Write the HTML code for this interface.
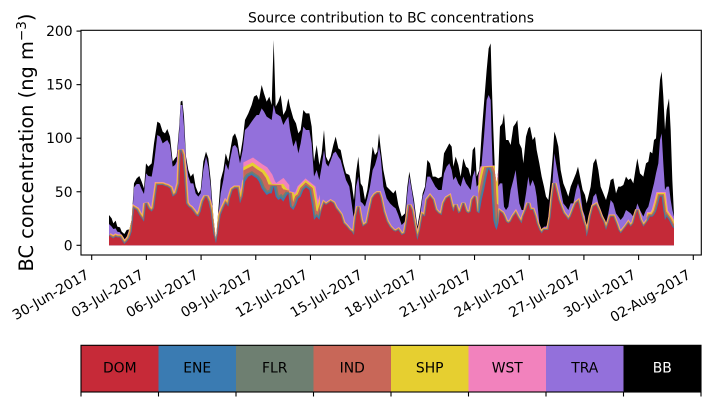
<!DOCTYPE html>
<html><head><meta charset="utf-8"><style>html,body{margin:0;padding:0;background:#fff;overflow:hidden}svg{display:block}</style></head>
<body>
<svg width="710" height="402" viewBox="0 0 710 402" xmlns="http://www.w3.org/2000/svg" font-family="'DejaVu Sans','Liberation Sans',sans-serif">
<rect width="710" height="402" fill="#fff"/>
<defs>
<polyline id="rl" fill="none" points="87,617 95,622 100,625 107,620 112,622 120,622 125,630 133,642 140,635 148,625 155,605 162,535 170,540 178,555 185,565 192,575 198,520 205,535 215,545 222,535 232,465 240,465 248,465 255,468 262,470 270,475 278,500 285,495 290,490 298,460 302,360 307,375 312,430 318,520 325,530 332,535 340,545 347,555 355,560 362,545 370,515 378,500 385,515 392,545 400,610 408,640 415,600 422,555 430,535 437,520 445,530 450,505 458,480 465,475 472,475 480,520 488,500 495,455 505,440 515,435 522,440 530,445 537,455 545,475 552,485 560,495 568,490 575,490 581,470 587,500 595,510 602,505 610,515 618,500 625,490 630,530 640,540 648,525 655,505 662,500 670,480 678,472 688,480 695,520 702,570 710,560 718,570 725,540 732,520 738,525 745,520 752,515 760,520 767,535 775,545 782,555 790,580 798,588 808,600 815,605 822,615 828,560 835,530 842,570 848,590 855,585 862,580 870,540 878,505 885,495 892,490 897,490 902,505 910,545 920,575 930,592 940,602 947,605 955,600 965,615 975,610 982,570 988,525 995,540 1002,580 1012,630 1020,600 1028,555 1035,560 1042,510 1050,500 1058,510 1066,540 1075,550 1085,555 1092,520 1100,505 1108,500 1115,530 1120,545 1127,525 1135,550 1142,545 1150,520 1158,545 1165,550 1172,545 1178,510 1185,500 1190,545 1198,550 1205,510 1212,480 1220,440 1226,415 1232,430 1235,490 1240,570 1245,590 1250,600 1255,580 1260,545 1267,550 1272,560 1278,575 1285,580 1292,575 1300,560 1307,550 1312,560 1318,570 1325,580 1330,560 1338,540 1345,520 1350,540 1358,540 1365,560 1370,580 1378,600 1385,610 1392,600 1398,600 1405,600 1412,560 1418,500 1423,460 1428,480 1435,510 1442,530 1450,550 1458,560 1465,570 1472,560 1480,540 1488,520 1494,515 1500,540 1508,570 1515,590 1520,620 1525,600 1532,560 1540,530 1548,525 1555,540 1562,560 1570,575 1578,600 1585,580 1592,560 1600,560 1608,580 1615,600 1622,610 1630,600 1638,590 1645,580 1652,590 1660,580 1667,555 1672,540 1680,570 1690,590 1698,580 1705,570 1710,560 1717,560 1722,555 1728,545 1735,520 1740,500 1745,500 1750,540 1755,570 1760,560 1767,570 1772,580 1777,590 1782,595"/>
<clipPath id="tot"><polygon points="87,555 95,565 100,580 107,572 112,590 120,592 125,605 133,612 140,600 148,598 155,570 162,460 170,445 178,438 185,455 192,475 198,400 205,410 215,400 222,340 232,275 240,280 248,305 255,310 262,297 270,320 278,395 285,385 290,380 298,285 302,215 307,212 312,260 318,380 325,420 332,440 340,430 347,470 355,490 362,480 370,395 378,365 385,385 392,450 400,560 408,630 415,540 422,450 430,420 437,370 445,395 450,365 458,320 465,310 472,330 480,380 488,330 495,270 505,250 515,225 522,200 530,195 537,210 545,165 552,190 560,215 568,200 575,225 581,30 587,230 595,215 602,195 610,255 618,240 625,205 630,230 640,265 648,280 655,310 662,300 670,240 678,250 688,250 695,290 702,395 710,345 718,405 725,370 732,300 738,380 745,395 752,380 760,345 767,320 775,355 782,360 790,400 798,430 808,435 815,460 822,510 828,430 835,380 842,460 848,470 855,510 862,480 870,420 878,350 885,375 892,365 897,310 902,355 910,420 920,470 930,480 940,490 947,480 955,525 965,560 975,550 982,470 988,425 995,470 1002,510 1012,590 1020,545 1028,490 1035,470 1042,390 1050,400 1058,440 1066,440 1075,445 1085,440 1092,370 1100,355 1108,340 1115,350 1120,410 1127,380 1135,405 1142,440 1150,385 1158,410 1165,415 1172,440 1178,360 1185,350 1190,440 1198,420 1205,310 1212,220 1220,120 1226,55 1232,40 1235,150 1240,300 1245,430 1250,460 1255,420 1260,290 1267,280 1272,250 1278,330 1285,330 1292,345 1300,290 1307,280 1312,270 1318,340 1325,355 1330,400 1338,320 1345,295 1350,290 1358,330 1365,320 1370,360 1378,400 1385,440 1392,470 1398,500 1405,510 1412,450 1418,380 1423,305 1428,320 1435,350 1442,420 1450,460 1458,480 1465,500 1472,470 1480,450 1488,430 1494,410 1500,440 1508,480 1515,495 1520,520 1525,500 1532,470 1540,400 1548,385 1555,420 1562,470 1570,490 1578,510 1585,485 1592,450 1600,445 1608,490 1615,470 1622,470 1630,465 1638,440 1645,450 1652,445 1660,460 1667,415 1672,385 1680,430 1690,440 1698,400 1705,395 1710,365 1717,370 1722,330 1728,325 1735,220 1740,150 1745,125 1750,200 1755,300 1760,240 1767,205 1772,300 1777,450 1782,555 1782,646 87,646"/></clipPath>
<clipPath id="c1"><rect x="0" y="0" width="490" height="700"/></clipPath>
<clipPath id="c2"><rect x="490" y="0" width="138" height="700"/></clipPath>
<clipPath id="c3"><rect x="628" y="0" width="92" height="700"/></clipPath>
<clipPath id="c4"><rect x="720" y="0" width="475" height="700"/></clipPath>
<clipPath id="c5"><rect x="1195" y="0" width="60" height="700"/></clipPath>
<clipPath id="c6"><rect x="1255" y="0" width="445" height="700"/></clipPath>
<clipPath id="c7"><rect x="1700" y="0" width="120" height="700"/></clipPath>
</defs>

<!-- title -->
<text x="391" y="22.5" font-size="13.9" text-anchor="middle" fill="#000">Source contribution to BC concentrations</text>

<!-- data -->
<g transform="translate(80,30) scale(0.333333)">
<!-- BB (black) -->
<polygon fill="#000" points="87,555 95,565 100,580 107,572 112,590 120,592 125,605 133,612 140,600 148,598 155,570 162,460 170,445 178,438 185,455 192,475 198,400 205,410 215,400 222,340 232,275 240,280 248,305 255,310 262,297 270,320 278,395 285,385 290,380 298,285 302,215 307,212 312,260 318,380 325,420 332,440 340,430 347,470 355,490 362,480 370,395 378,365 385,385 392,450 400,560 408,630 415,540 422,450 430,420 437,370 445,395 450,365 458,320 465,310 472,330 480,380 488,330 495,270 505,250 515,225 522,200 530,195 537,210 545,165 552,190 560,215 568,200 575,225 581,30 587,230 595,215 602,195 610,255 618,240 625,205 630,230 640,265 648,280 655,310 662,300 670,240 678,250 688,250 695,290 702,395 710,345 718,405 725,370 732,300 738,380 745,395 752,380 760,345 767,320 775,355 782,360 790,400 798,430 808,435 815,460 822,510 828,430 835,380 842,460 848,470 855,510 862,480 870,420 878,350 885,375 892,365 897,310 902,355 910,420 920,470 930,480 940,490 947,480 955,525 965,560 975,550 982,470 988,425 995,470 1002,510 1012,590 1020,545 1028,490 1035,470 1042,390 1050,400 1058,440 1066,440 1075,445 1085,440 1092,370 1100,355 1108,340 1115,350 1120,410 1127,380 1135,405 1142,440 1150,385 1158,410 1165,415 1172,440 1178,360 1185,350 1190,440 1198,420 1205,310 1212,220 1220,120 1226,55 1232,40 1235,150 1240,300 1245,430 1250,460 1255,420 1260,290 1267,280 1272,250 1278,330 1285,330 1292,345 1300,290 1307,280 1312,270 1318,340 1325,355 1330,400 1338,320 1345,295 1350,290 1358,330 1365,320 1370,360 1378,400 1385,440 1392,470 1398,500 1405,510 1412,450 1418,380 1423,305 1428,320 1435,350 1442,420 1450,460 1458,480 1465,500 1472,470 1480,450 1488,430 1494,410 1500,440 1508,480 1515,495 1520,520 1525,500 1532,470 1540,400 1548,385 1555,420 1562,470 1570,490 1578,510 1585,485 1592,450 1600,445 1608,490 1615,470 1622,470 1630,465 1638,440 1645,450 1652,445 1660,460 1667,415 1672,385 1680,430 1690,440 1698,400 1705,395 1710,365 1717,370 1722,330 1728,325 1735,220 1740,150 1745,125 1750,200 1755,300 1760,240 1767,205 1772,300 1777,450 1782,555 1782,646 87,646"/>
<!-- TRA (purple) -->
<polygon fill="#9370db" points="87,582 95,590 100,597 107,595 112,605 120,607 125,618 133,630 140,620 148,612 155,590 162,472 170,462 178,462 185,478 192,492 198,430 205,438 215,440 222,400 232,315 240,320 248,340 255,335 262,330 270,345 278,410 285,405 290,395 298,300 302,225 307,225 312,290 318,390 325,440 332,460 340,460 347,490 355,500 362,490 370,420 378,380 385,410 392,470 400,580 408,635 415,560 422,490 430,450 437,400 445,420 450,390 458,350 465,345 472,355 480,400 488,360 495,300 505,290 515,275 522,265 530,255 537,255 545,235 552,245 560,260 568,265 575,270 581,225 587,250 595,255 602,260 610,285 618,270 625,260 630,300 640,350 648,330 655,370 662,340 670,290 678,300 688,300 695,340 702,440 710,420 718,450 725,410 732,360 738,400 745,410 752,392 760,370 767,365 775,380 782,390 790,420 798,450 808,470 815,520 822,570 828,470 835,440 842,515 848,520 855,530 862,505 870,470 878,420 885,405 892,380 897,350 902,380 910,470 920,505 930,520 940,530 947,535 955,555 965,585 975,575 982,490 988,440 995,480 1002,525 1012,600 1020,560 1028,500 1035,480 1042,440 1050,440 1058,455 1066,470 1075,480 1085,480 1092,430 1100,410 1108,400 1115,420 1120,450 1127,440 1135,460 1142,470 1150,440 1158,460 1165,470 1172,480 1178,440 1185,420 1190,470 1198,460 1205,400 1212,320 1220,210 1226,195 1232,210 1235,320 1240,460 1245,520 1250,525 1255,470 1260,460 1267,460 1272,530 1278,540 1285,530 1292,480 1300,450 1307,420 1312,470 1318,520 1325,540 1330,540 1338,490 1345,440 1350,470 1358,450 1365,470 1370,500 1378,580 1385,600 1392,590 1398,590 1405,580 1412,540 1418,450 1423,370 1428,400 1435,440 1442,480 1450,520 1458,530 1465,540 1472,520 1480,520 1488,480 1494,460 1500,480 1508,540 1515,560 1520,610 1525,580 1532,540 1540,500 1548,490 1555,520 1562,540 1570,560 1578,580 1585,550 1592,510 1600,520 1608,550 1615,560 1622,570 1630,560 1638,540 1645,545 1652,550 1660,560 1667,540 1672,520 1680,540 1690,560 1698,540 1705,530 1710,510 1717,480 1722,460 1728,430 1735,400 1740,330 1745,310 1750,400 1755,480 1760,470 1767,470 1772,510 1777,540 1782,560 1782,646 87,646"/>
<!-- thin layers WST, SHP, IND, FLR, ENE -->
<g clip-path="url(#tot)" stroke-linejoin="miter" stroke-miterlimit="2" fill="none">
 <g clip-path="url(#c1)">
  <use href="#rl" stroke="#f282bd" stroke-width="18"/>
  <use href="#rl" stroke="#e6cf30" stroke-width="14.4"/>
  <use href="#rl" stroke="#c86758" stroke-width="9.9"/>
  <use href="#rl" stroke="#6e7f71" stroke-width="5.4"/>
  <use href="#rl" stroke="#3a7bb2" stroke-width="2.7"/>
 </g>
 <g clip-path="url(#c2)">
  <use href="#rl" stroke="#f282bd" stroke-width="90"/>
  <use href="#rl" stroke="#e6cf30" stroke-width="64.8"/>
  <use href="#rl" stroke="#c86758" stroke-width="46.8"/>
  <use href="#rl" stroke="#6e7f71" stroke-width="19.8"/>
  <use href="#rl" stroke="#3a7bb2" stroke-width="9"/>
 </g>
 <g clip-path="url(#c3)">
  <use href="#rl" stroke="#f282bd" stroke-width="40"/>
  <use href="#rl" stroke="#e6cf30" stroke-width="32"/>
  <use href="#rl" stroke="#c86758" stroke-width="22"/>
  <use href="#rl" stroke="#6e7f71" stroke-width="12"/>
  <use href="#rl" stroke="#3a7bb2" stroke-width="6"/>
 </g>
 <g clip-path="url(#c4)">
  <use href="#rl" stroke="#f282bd" stroke-width="14"/>
  <use href="#rl" stroke="#e6cf30" stroke-width="11.2"/>
  <use href="#rl" stroke="#c86758" stroke-width="7.7"/>
  <use href="#rl" stroke="#6e7f71" stroke-width="4.2"/>
  <use href="#rl" stroke="#3a7bb2" stroke-width="2.1"/>
 </g>
 <g clip-path="url(#c5)">
  <use href="#rl" stroke="#f282bd" stroke-width="50"/>
  <use href="#rl" stroke="#e6cf30" stroke-width="40"/>
  <use href="#rl" stroke="#c86758" stroke-width="27.5"/>
  <use href="#rl" stroke="#6e7f71" stroke-width="15"/>
  <use href="#rl" stroke="#3a7bb2" stroke-width="7.5"/>
 </g>
 <g clip-path="url(#c6)">
  <use href="#rl" stroke="#f282bd" stroke-width="14"/>
  <use href="#rl" stroke="#e6cf30" stroke-width="11.2"/>
  <use href="#rl" stroke="#c86758" stroke-width="7.7"/>
  <use href="#rl" stroke="#6e7f71" stroke-width="4.2"/>
  <use href="#rl" stroke="#3a7bb2" stroke-width="2.1"/>
 </g>
 <g clip-path="url(#c7)">
  <use href="#rl" stroke="#f282bd" stroke-width="28"/>
  <use href="#rl" stroke="#e6cf30" stroke-width="22.4"/>
  <use href="#rl" stroke="#c86758" stroke-width="15.4"/>
  <use href="#rl" stroke="#6e7f71" stroke-width="8.4"/>
  <use href="#rl" stroke="#3a7bb2" stroke-width="4.2"/>
 </g>
</g>
<!-- DOM (red) -->
<polygon fill="#c42a38" points="87,617 95,622 100,625 107,620 112,622 120,622 125,630 133,642 140,635 148,625 155,605 162,535 170,540 178,555 185,565 192,575 198,520 205,535 215,545 222,535 232,465 240,465 248,465 255,468 262,470 270,475 278,500 285,495 290,490 298,460 302,360 307,375 312,430 318,520 325,530 332,535 340,545 347,555 355,560 362,545 370,515 378,500 385,515 392,545 400,610 408,640 415,600 422,555 430,535 437,520 445,530 450,505 458,480 465,475 472,475 480,520 488,500 495,455 505,440 515,435 522,440 530,445 537,455 545,475 552,485 560,495 568,490 575,490 581,470 587,500 595,510 602,505 610,515 618,500 625,490 630,530 640,540 648,525 655,505 662,500 670,480 678,472 688,480 695,520 702,570 710,560 718,570 725,540 732,520 738,525 745,520 752,515 760,520 767,535 775,545 782,555 790,580 798,588 808,600 815,605 822,615 828,560 835,530 842,570 848,590 855,585 862,580 870,540 878,505 885,495 892,490 897,490 902,505 910,545 920,575 930,592 940,602 947,605 955,600 965,615 975,610 982,570 988,525 995,540 1002,580 1012,630 1020,600 1028,555 1035,560 1042,510 1050,500 1058,510 1066,540 1075,550 1085,555 1092,520 1100,505 1108,500 1115,530 1120,545 1127,525 1135,550 1142,545 1150,520 1158,545 1165,550 1172,545 1178,510 1185,500 1190,545 1198,550 1205,510 1212,480 1220,440 1226,415 1232,430 1235,490 1240,570 1245,590 1250,600 1255,580 1260,545 1267,550 1272,560 1278,575 1285,580 1292,575 1300,560 1307,550 1312,560 1318,570 1325,580 1330,560 1338,540 1345,520 1350,540 1358,540 1365,560 1370,580 1378,600 1385,610 1392,600 1398,600 1405,600 1412,560 1418,500 1423,460 1428,480 1435,510 1442,530 1450,550 1458,560 1465,570 1472,560 1480,540 1488,520 1494,515 1500,540 1508,570 1515,590 1520,620 1525,600 1532,560 1540,530 1548,525 1555,540 1562,560 1570,575 1578,600 1585,580 1592,560 1600,560 1608,580 1615,600 1622,610 1630,600 1638,590 1645,580 1652,590 1660,580 1667,555 1672,540 1680,570 1690,590 1698,580 1705,570 1710,560 1717,560 1722,555 1728,545 1735,520 1740,500 1745,500 1750,540 1755,570 1760,560 1767,570 1772,580 1777,590 1782,595 1782,646 87,646"/>
</g>

<!-- axes frame -->
<rect x="81" y="30.3" width="620.3" height="224.7" fill="none" stroke="#000" stroke-width="1.1"/>

<!-- y ticks -->
<g stroke="#000" stroke-width="1.1">
<line x1="76.5" y1="245.3" x2="81" y2="245.3"/>
<line x1="76.5" y1="191.75" x2="81" y2="191.75"/>
<line x1="76.5" y1="138.2" x2="81" y2="138.2"/>
<line x1="76.5" y1="84.65" x2="81" y2="84.65"/>
<line x1="76.5" y1="31.1" x2="81" y2="31.1"/>
</g>
<g font-size="13.9" text-anchor="end" fill="#000">
<text x="72.6" y="250.3">0</text>
<text x="72.6" y="196.75">50</text>
<text x="72.6" y="143.2">100</text>
<text x="72.6" y="89.65">150</text>
<text x="72.6" y="36.1">200</text>
</g>
<text transform="translate(33,142.5) rotate(-90)" font-size="19.4" text-anchor="middle" fill="#000">BC concentration (ng m<tspan font-size="13.6" dy="-7">−3</tspan><tspan dy="7">)</tspan></text>

<!-- x ticks -->
<g stroke="#000" stroke-width="1.1">
<line x1="91.7" y1="255" x2="91.7" y2="260"/>
<line x1="146.39" y1="255" x2="146.39" y2="260"/>
<line x1="201.08" y1="255" x2="201.08" y2="260"/>
<line x1="255.77" y1="255" x2="255.77" y2="260"/>
<line x1="310.46" y1="255" x2="310.46" y2="260"/>
<line x1="365.15" y1="255" x2="365.15" y2="260"/>
<line x1="419.84" y1="255" x2="419.84" y2="260"/>
<line x1="474.53" y1="255" x2="474.53" y2="260"/>
<line x1="529.22" y1="255" x2="529.22" y2="260"/>
<line x1="583.91" y1="255" x2="583.91" y2="260"/>
<line x1="638.6" y1="255" x2="638.6" y2="260"/>
<line x1="693.29" y1="255" x2="693.29" y2="260"/>
</g>
<g font-size="13.9" text-anchor="end" fill="#000">
<text x="90.0" y="277.5" transform="rotate(-30 90.0 277.5)">30-Jun-2017</text>
<text x="144.7" y="277.5" transform="rotate(-30 144.7 277.5)">03-Jul-2017</text>
<text x="199.4" y="277.5" transform="rotate(-30 199.4 277.5)">06-Jul-2017</text>
<text x="254.1" y="277.5" transform="rotate(-30 254.1 277.5)">09-Jul-2017</text>
<text x="308.8" y="277.5" transform="rotate(-30 308.8 277.5)">12-Jul-2017</text>
<text x="363.5" y="277.5" transform="rotate(-30 363.5 277.5)">15-Jul-2017</text>
<text x="418.1" y="277.5" transform="rotate(-30 418.1 277.5)">18-Jul-2017</text>
<text x="472.8" y="277.5" transform="rotate(-30 472.8 277.5)">21-Jul-2017</text>
<text x="527.5" y="277.5" transform="rotate(-30 527.5 277.5)">24-Jul-2017</text>
<text x="582.2" y="277.5" transform="rotate(-30 582.2 277.5)">27-Jul-2017</text>
<text x="636.9" y="277.5" transform="rotate(-30 636.9 277.5)">30-Jul-2017</text>
<text x="691.6" y="277.5" transform="rotate(-30 691.6 277.5)">02-Aug-2017</text>
</g>

<!-- legend bar -->
<g>
<rect x="81" y="345.3" width="77.5" height="46.7" fill="#c62a38"/>
<rect x="158.5" y="345.3" width="77.5" height="46.7" fill="#3a7bb2"/>
<rect x="236" y="345.3" width="77.5" height="46.7" fill="#6e7f71"/>
<rect x="313.5" y="345.3" width="77.5" height="46.7" fill="#c86758"/>
<rect x="391" y="345.3" width="77.5" height="46.7" fill="#e6cf30"/>
<rect x="468.5" y="345.3" width="77.5" height="46.7" fill="#f282bd"/>
<rect x="546" y="345.3" width="77.5" height="46.7" fill="#9370db"/>
<rect x="623.5" y="345.3" width="77.5" height="46.7" fill="#000"/>
<rect x="81" y="345.3" width="620" height="46.7" fill="none" stroke="#000" stroke-width="1.1"/>
</g>
<g stroke="#000" stroke-width="1.1">
<line x1="81" y1="392" x2="81" y2="396.5"/>
<line x1="158.5" y1="392" x2="158.5" y2="396.5"/>
<line x1="236" y1="392" x2="236" y2="396.5"/>
<line x1="313.5" y1="392" x2="313.5" y2="396.5"/>
<line x1="391" y1="392" x2="391" y2="396.5"/>
<line x1="468.5" y1="392" x2="468.5" y2="396.5"/>
<line x1="546" y1="392" x2="546" y2="396.5"/>
<line x1="623.5" y1="392" x2="623.5" y2="396.5"/>
<line x1="701" y1="392" x2="701" y2="396.5"/>
</g>
<g font-size="13.9" text-anchor="middle" fill="#000">
<text x="119.75" y="372.7">DOM</text>
<text x="197.25" y="372.7">ENE</text>
<text x="274.75" y="372.7">FLR</text>
<text x="352.25" y="372.7">IND</text>
<text x="429.75" y="372.7">SHP</text>
<text x="507.25" y="372.7">WST</text>
<text x="584.75" y="372.7">TRA</text>
<text x="662.25" y="372.7" fill="#fff">BB</text>
</g>
</svg>
</body></html>
